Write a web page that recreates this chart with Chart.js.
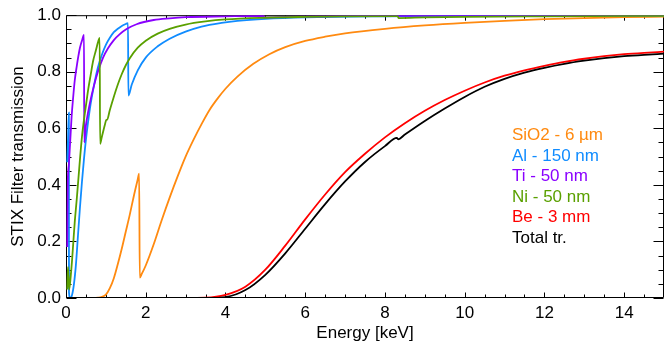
<!DOCTYPE html>
<html><head><meta charset="utf-8">
<script src="https://cdn.jsdelivr.net/npm/chart.js@4"></script>
<style>
html,body{margin:0;padding:0;background:#fff;}
#wrap{position:relative;width:664px;height:342px;}
#legend{position:absolute;left:512px;top:125px;font-family:"Liberation Sans",Arial,Helvetica,sans-serif;font-size:17px;line-height:20.5px;white-space:nowrap;}
</style></head><body>
<div id="wrap"><canvas id="c" width="664" height="342"></canvas><div id="legend"></div></div>
<script>
// ---- data ----
const sio2E = [0, 0.7, 0.8, 0.9, 1.0, 1.1, 1.2, 1.3, 1.4, 1.5, 1.6, 1.7, 1.8, 1.835, 1.85, 1.9, 2.0, 2.2, 2.4, 2.6, 2.8, 3.0, 3.2, 3.4, 3.6, 3.8, 4.0, 4.3, 4.7, 5.1, 5.5, 6.0, 6.5, 7.0, 8.0, 9.0, 10, 11, 12, 13, 14, 15];
const sio2T = [0, 0, 0.001, 0.004, 0.012, 0.035, 0.07, 0.12, 0.175, 0.235, 0.295, 0.36, 0.42, 0.44, 0.072, 0.085, 0.115, 0.19, 0.275, 0.355, 0.43, 0.5, 0.56, 0.615, 0.665, 0.705, 0.74, 0.783, 0.828, 0.862, 0.887, 0.909, 0.924, 0.936, 0.952, 0.964, 0.973, 0.98, 0.986, 0.99, 0.993, 0.995];

const alE = [0.03, 0.05, 0.072, 0.075, 0.1, 0.15, 0.2, 0.25, 0.3, 0.35, 0.4, 0.45, 0.5, 0.6, 0.7, 0.8, 0.9, 1.0, 1.1, 1.2, 1.3, 1.4, 1.5, 1.555, 1.565, 1.65, 1.8, 2.0, 2.3, 2.6, 3.0, 3.4, 3.9, 4.3, 5.0, 6.0, 8.0, 10, 15];
const alT = [0.48, 0.56, 0.655, 0.02, 0.0, 0.01, 0.05, 0.12, 0.22, 0.32, 0.41, 0.49, 0.56, 0.67, 0.75, 0.815, 0.86, 0.895, 0.92, 0.94, 0.952, 0.962, 0.969, 0.972, 0.716, 0.755, 0.805, 0.85, 0.89, 0.917, 0.942, 0.96, 0.973, 0.98, 0.987, 0.992, 0.996, 0.998, 0.999];

const tiE = [0.03, 0.045, 0.07, 0.1, 0.14, 0.18, 0.22, 0.27, 0.31, 0.35, 0.4, 0.452, 0.457, 0.5, 0.52, 0.6, 0.7, 0.8, 0.93, 1.05, 1.2, 1.35, 1.52, 1.77, 2.2, 2.6, 3.0, 4.0, 4.96, 4.97, 5.5, 7.0, 10, 15];
const tiT = [0.18, 0.41, 0.47, 0.54, 0.64, 0.71, 0.77, 0.82, 0.855, 0.885, 0.91, 0.93, 0.55, 0.61, 0.63, 0.69, 0.75, 0.80, 0.85, 0.882, 0.912, 0.933, 0.951, 0.968, 0.983, 0.989, 0.993, 0.996, 0.998, 0.992, 0.994, 0.997, 0.999, 1.0];

const niE = [0.03, 0.05, 0.08, 0.12, 0.15, 0.18, 0.22, 0.27, 0.31, 0.35, 0.4, 0.45, 0.5, 0.56, 0.62, 0.68, 0.75, 0.8, 0.845, 0.855, 0.9, 0.98, 1.01, 1.03, 1.1, 1.2, 1.3, 1.4, 1.5, 1.6, 1.8, 2.0, 2.3, 2.6, 3.0, 3.5, 4.0, 5.0, 6.0, 7.0, 8.32, 8.34, 9, 10, 12, 15];
const niT = [0.03, 0.11, 0.03, 0.08, 0.13, 0.19, 0.27, 0.35, 0.42, 0.49, 0.57, 0.63, 0.68, 0.74, 0.79, 0.838, 0.876, 0.903, 0.92, 0.545, 0.57, 0.615, 0.63, 0.63, 0.665, 0.712, 0.755, 0.792, 0.823, 0.848, 0.885, 0.91, 0.935, 0.952, 0.967, 0.978, 0.985, 0.991, 0.994, 0.996, 0.997, 0.99, 0.992, 0.994, 0.996, 0.998];

const beE = [0, 3.0, 3.5, 4.0, 4.5, 5.0, 5.5, 6.0, 6.5, 7.0, 7.5, 8.0, 8.5, 9.0, 9.5, 10.0, 10.5, 11.0, 11.5, 12.0, 12.5, 13.0, 13.5, 14.0, 14.5, 15];
const beT = [0, 0, 0.001, 0.011, 0.040, 0.100, 0.185, 0.278, 0.366, 0.445, 0.510, 0.568, 0.618, 0.662, 0.700, 0.733, 0.762, 0.786, 0.805, 0.821, 0.835, 0.846, 0.855, 0.862, 0.867, 0.871];

const totE = [0, 3.6, 4.0, 4.5, 5.0, 5.5, 6.0, 6.5, 7.0, 7.5, 8.0, 8.3, 8.33, 8.5, 9.0, 9.5, 10.0, 10.5, 11.0, 11.5, 12.0, 12.5, 13.0, 13.5, 14.0, 14.5, 15];
const totT = [0, 0, 0.003, 0.028, 0.082, 0.158, 0.245, 0.332, 0.412, 0.481, 0.537, 0.566, 0.561, 0.578, 0.626, 0.670, 0.711, 0.747, 0.775, 0.797, 0.814, 0.828, 0.839, 0.848, 0.855, 0.860, 0.864];

const seriesNames  = ['SiO2 - 6 \u00b5m', 'Al - 150 nm', 'Ti - 50 nm', 'Ni - 50 nm', 'Be - 3 mm', 'Total tr.'];
const seriesColors = ['#FF8A10', '#108CFF', '#8A00FF', '#5AA000', '#FF0000', '#000000'];
const xTickLabels = [0, 2, 4, 6, 8, 10, 12, 14];
const yTickLabels = [0, 0.2, 0.4, 0.6, 0.8, 1.0];

const seriesE = [sio2E, alE, tiE, niE, beE, totE];
const seriesT = [sio2T, alT, tiT, niT, beT, totT];

const FONT = '"Liberation Sans", Arial, Helvetica, sans-serif';

// legend as html text
const leg = document.getElementById('legend');
seriesNames.forEach((n, i) => {
  const d = document.createElement('div');
  d.textContent = n; d.style.color = seriesColors[i];
  leg.appendChild(d);
});

const frameTicks = {
  id: 'frameTicks',
  beforeDatasetsDraw(chart) {
    const {ctx, chartArea: a, scales: {x, y}} = chart;
    ctx.save();
    ctx.strokeStyle = '#000';
    ctx.lineWidth = 1;
    ctx.beginPath();
    const L = a.left + 0.5, R = a.right - 0.5, T = a.top + 0.5, B = a.bottom - 0.5;
    ctx.moveTo(L, T); ctx.lineTo(R, T); ctx.lineTo(R, B); ctx.lineTo(L, B); ctx.closePath();
    for (let i = 0; i <= 30; i++) {
      const v = i * 0.5, major = i % 4 === 0, len = major ? 5 : 3;
      const px = Math.round(x.getPixelForValue(v)) + 0.5;
      ctx.moveTo(px, B); ctx.lineTo(px, B - len);
      ctx.moveTo(px, T); ctx.lineTo(px, T + len);
    }
    for (let i = 0; i <= 20; i++) {
      const v = i * 0.05, major = i % 4 === 0, len = major ? 10 : 5;
      const py = Math.round(y.getPixelForValue(v)) + 0.5;
      ctx.moveTo(L, py); ctx.lineTo(L + len, py);
      ctx.moveTo(R, py); ctx.lineTo(R - len, py);
    }
    ctx.stroke();
    ctx.restore();
  }
};

const orders = [5, 4, 3, 2, 1, 0];
new Chart(document.getElementById('c'), {
  type: 'line',
  data: {
    datasets: seriesNames.map((n, i) => ({
      label: n,
      data: seriesE[i].map((e, k) => ({x: e, y: seriesT[i][k]})),
      borderColor: seriesColors[i],
      backgroundColor: seriesColors[i],
      borderWidth: 1.8,
      pointRadius: 0,
      fill: false,
      cubicInterpolationMode: 'monotone',
      order: orders[i]
    }))
  },
  options: {
    responsive: false,
    animation: false,
    devicePixelRatio: 1,
    layout: {padding: {top: 14, left: 0, right: 0, bottom: 0}},
    plugins: {legend: {display: false}, tooltip: {enabled: false}},
    scales: {
      x: {
        type: 'linear', min: 0, max: 15,
        afterFit(s) { s.height = 44; },
        afterBuildTicks(s) { s.ticks = xTickLabels.map(v => ({value: v})); },
        ticks: {font: {family: FONT, size: 17}, color: '#000', padding: 5, maxRotation: 0, autoSkip: false},
        grid: {display: false, drawTicks: false},
        border: {display: false},
        title: {display: true, text: 'Energy [keV]', color: '#000', font: {family: FONT, size: 17, lineHeight: 1.05}, padding: {top: 0, bottom: 0}}
      },
      y: {
        type: 'linear', min: 0, max: 1,
        afterFit(s) { s.width = 66; },
        afterBuildTicks(s) { s.ticks = yTickLabels.map(v => ({value: v})); },
        ticks: {font: {family: FONT, size: 17}, color: '#000', padding: 5, callback: v => Number(v).toFixed(1)},
        grid: {display: false, drawTicks: false},
        border: {display: false},
        title: {display: true, text: 'STIX Filter transmission', color: '#000', font: {family: FONT, size: 17}, padding: {top: 8, bottom: 0}}
      }
    }
  },
  plugins: [frameTicks]
});
</script>
</body></html>
